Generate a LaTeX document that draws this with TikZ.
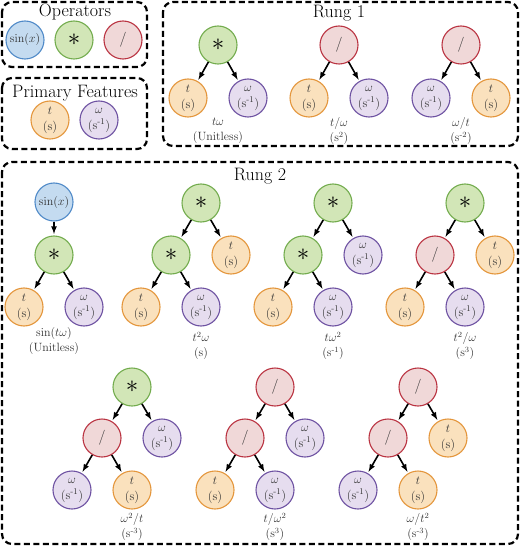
\documentclass[tikz,border=0pt]{standalone}
\usepackage{tikz}
\usetikzlibrary{arrows}

\definecolor{sinfill}{RGB}{196,219,240}
\definecolor{sindraw}{RGB}{80,138,200}
\definecolor{mulfill}{RGB}{210,230,183}
\definecolor{muldraw}{RGB}{115,172,78}
\definecolor{divfill}{RGB}{240,216,216}
\definecolor{divdraw}{RGB}{186,52,66}
\definecolor{tfill}{RGB}{250,225,189}
\definecolor{tdraw}{RGB}{228,150,60}
\definecolor{wfill}{RGB}{230,221,239}
\definecolor{wdraw}{RGB}{110,82,162}

\newcommand{\tleaf}{$t$\\(s)}
\newcommand{\wleaf}{$\omega$\\(s\textsuperscript{-1})}

\tikzset{
  gnode/.style={circle, draw, line width=1.1pt, minimum size=38pt, inner sep=0pt,
    align=center, text=black!80, font=\fontsize{12.5}{16}\selectfont},
  sinop/.style={gnode, draw=sindraw, fill=sinfill, font=\fontsize{12}{14}\selectfont},
  mulop/.style={gnode, draw=muldraw, fill=mulfill, text=black, font=\fontsize{29}{29}\selectfont},
  divop/.style={gnode, draw=divdraw, fill=divfill, font=\fontsize{15}{15}\selectfont},
  tfeat/.style={gnode, draw=tdraw, fill=tfill},
  wfeat/.style={gnode, draw=wdraw, fill=wfill},
  grp/.style={draw, line width=2.2pt, dash pattern=on 6pt off 3.5pt, rounded corners=10pt},
  ttl/.style={font=\fontsize{18}{20}\selectfont},
  lbl/.style={align=center, text=black!80, font=\fontsize{12}{15}\selectfont},
  arr/.style={->, >=latex, line width=1.6pt, shorten >=1.5pt}
}

\begin{document}
\begin{tikzpicture}[x=1pt, y=-1pt]
    \useasboundingbox (0,0) rectangle (520,548);

    % Operators
    \draw[grp] (2,2) rectangle (147,67);
    \node[ttl] (optitle) at (75,12) {Operators};
    \node[sinop] (opsin) at (25,40) {$\sin(x)$};
    \node[mulop] (opmul) at (74,40) {$\ast$};
    \node[divop] (opdiv) at (123,40) {/};

    % Primary Features
    \draw[grp] (2,78) rectangle (147,149);
    \node[ttl] (pftitle) at (75,93) {Primary Features};
    \node[tfeat] (pft) at (50,120) {\tleaf};
    \node[wfeat] (pfw) at (99,120) {\wleaf};

    % Rung 1
    \draw[grp] (163,2) rectangle (518,146);
    \node[ttl] (r1title) at (339,13) {Rung 1};

    \node[mulop] (tw) at (218,45) {$\ast$};
    \node[tfeat] (tw-t) at (188,98) {\tleaf};
    \node[wfeat] (tw-w) at (248,98) {\wleaf};
    \draw[arr] (tw) -- (tw-t);
    \draw[arr] (tw) -- (tw-w);
    \node[lbl] (tw-lbl) at (218,131) {$t\omega$\\(Unitless)};

    \node[divop] (tdw) at (339,45) {/};
    \node[tfeat] (tdw-t) at (309,98) {\tleaf};
    \node[wfeat] (tdw-w) at (369,98) {\wleaf};
    \draw[arr] (tdw) -- (tdw-t);
    \draw[arr] (tdw) -- (tdw-w);
    \node[lbl] (tdw-lbl) at (339,131) {$t/\omega$\\(s$^2$)};

    \node[divop] (wdt) at (461,45) {/};
    \node[wfeat] (wdt-w) at (431,98) {\wleaf};
    \node[tfeat] (wdt-t) at (491,98) {\tleaf};
    \draw[arr] (wdt) -- (wdt-w);
    \draw[arr] (wdt) -- (wdt-t);
    \node[lbl] (wdt-lbl) at (461,131) {$\omega/t$\\(s\textsuperscript{-2})};

    % Rung 2
    \draw[grp] (2,162) rectangle (518,544);
    \node[ttl] (r2title) at (260,176) {Rung 2};

    % sin(t w)
    \node[sinop] (stw) at (54,202) {$\sin(x)$};
    \node[mulop] (stw-m) at (54,255) {$\ast$};
    \node[tfeat] (stw-t) at (24,307) {\tleaf};
    \node[wfeat] (stw-w) at (84,307) {\wleaf};
    \draw[arr] (stw) -- (stw-m);
    \draw[arr] (stw-m) -- (stw-t);
    \draw[arr] (stw-m) -- (stw-w);
    \node[lbl] (stw-lbl) at (54,341) {$\sin(t\omega)$\\(Unitless)};

    % t^2 w
    \node[mulop] (ttw) at (201,203) {$\ast$};
    \node[mulop] (ttw-m) at (171,255) {$\ast$};
    \node[tfeat] (ttw-r) at (231,255) {\tleaf};
    \node[tfeat] (ttw-t) at (141,307) {\tleaf};
    \node[wfeat] (ttw-w) at (201,307) {\wleaf};
    \draw[arr] (ttw) -- (ttw-m);
    \draw[arr] (ttw) -- (ttw-r);
    \draw[arr] (ttw-m) -- (ttw-t);
    \draw[arr] (ttw-m) -- (ttw-w);
    \node[lbl] (ttw-lbl) at (201,346) {$t^2\omega$\\(s)};

    % t w^2
    \node[mulop] (tww) at (333,203) {$\ast$};
    \node[mulop] (tww-m) at (303,255) {$\ast$};
    \node[wfeat] (tww-r) at (363,255) {\wleaf};
    \node[tfeat] (tww-t) at (273,307) {\tleaf};
    \node[wfeat] (tww-w) at (333,307) {\wleaf};
    \draw[arr] (tww) -- (tww-m);
    \draw[arr] (tww) -- (tww-r);
    \draw[arr] (tww-m) -- (tww-t);
    \draw[arr] (tww-m) -- (tww-w);
    \node[lbl] (tww-lbl) at (333,346) {$t\omega^2$\\(s\textsuperscript{-1})};

    % t^2 / w
    \node[mulop] (ttdw) at (465,203) {$\ast$};
    \node[divop] (ttdw-d) at (435,255) {/};
    \node[tfeat] (ttdw-r) at (495,255) {\tleaf};
    \node[tfeat] (ttdw-t) at (405,307) {\tleaf};
    \node[wfeat] (ttdw-w) at (465,307) {\wleaf};
    \draw[arr] (ttdw) -- (ttdw-d);
    \draw[arr] (ttdw) -- (ttdw-r);
    \draw[arr] (ttdw-d) -- (ttdw-t);
    \draw[arr] (ttdw-d) -- (ttdw-w);
    \node[lbl] (ttdw-lbl) at (465,346) {$t^2/\omega$\\(s$^3$)};

    % w^2 / t
    \node[mulop] (wwdt) at (132,387) {$\ast$};
    \node[divop] (wwdt-d) at (102,438) {/};
    \node[wfeat] (wwdt-r) at (162,438) {\wleaf};
    \node[wfeat] (wwdt-w) at (72,490) {\wleaf};
    \node[tfeat] (wwdt-t) at (132,490) {\tleaf};
    \draw[arr] (wwdt) -- (wwdt-d);
    \draw[arr] (wwdt) -- (wwdt-r);
    \draw[arr] (wwdt-d) -- (wwdt-w);
    \draw[arr] (wwdt-d) -- (wwdt-t);
    \node[lbl] (wwdt-lbl) at (132,527) {$\omega^2/t$\\(s\textsuperscript{-3})};

    % t / w^2
    \node[divop] (tdww) at (275,387) {/};
    \node[divop] (tdww-d) at (245,438) {/};
    \node[wfeat] (tdww-r) at (305,438) {\wleaf};
    \node[tfeat] (tdww-t) at (215,490) {\tleaf};
    \node[wfeat] (tdww-w) at (275,490) {\wleaf};
    \draw[arr] (tdww) -- (tdww-d);
    \draw[arr] (tdww) -- (tdww-r);
    \draw[arr] (tdww-d) -- (tdww-t);
    \draw[arr] (tdww-d) -- (tdww-w);
    \node[lbl] (tdww-lbl) at (275,527) {$t/\omega^2$\\(s$^3$)};

    % w / t^2
    \node[divop] (wdtt) at (418,387) {/};
    \node[divop] (wdtt-d) at (388,438) {/};
    \node[tfeat] (wdtt-r) at (448,438) {\tleaf};
    \node[wfeat] (wdtt-w) at (358,490) {\wleaf};
    \node[tfeat] (wdtt-t) at (418,490) {\tleaf};
    \draw[arr] (wdtt) -- (wdtt-d);
    \draw[arr] (wdtt) -- (wdtt-r);
    \draw[arr] (wdtt-d) -- (wdtt-w);
    \draw[arr] (wdtt-d) -- (wdtt-t);
    \node[lbl] (wdtt-lbl) at (418,527) {$\omega/t^2$\\(s\textsuperscript{-3})};

\end{tikzpicture}
\end{document}
